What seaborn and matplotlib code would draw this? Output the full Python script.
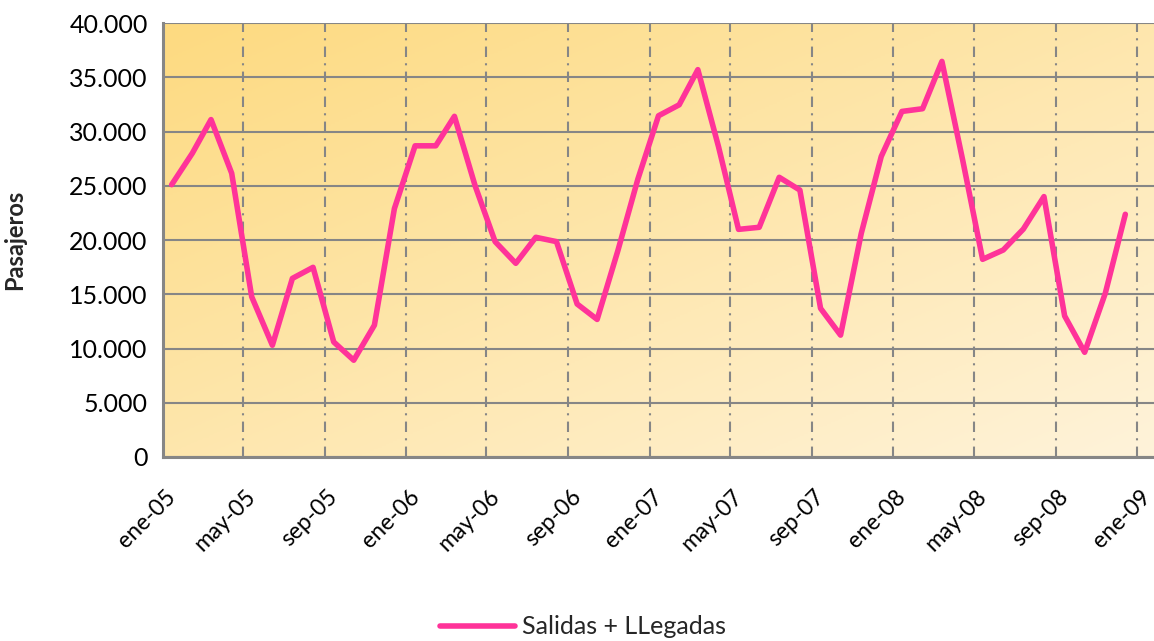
import numpy as np
import pandas as pd
import seaborn as sns
import matplotlib.pyplot as plt
import matplotlib.dates as mdates
import matplotlib.transforms as mtransforms
from matplotlib.colors import LinearSegmentedColormap
from matplotlib.ticker import FuncFormatter

# Pasajeros mensuales (salidas + llegadas), ene-05 .. dic-08
valores_2005 = [25100, 28000, 31100, 26150, 14770, 10300, 16460, 17480, 10600, 8920, 12150, 22900]
valores_2006 = [28680, 28680, 31400, 25000, 19850, 17850, 20250, 19850, 14100, 12680, 19000, 25600]
valores_2007 = [31450, 32460, 35700, 28600, 20980, 21170, 25780, 24600, 13700, 11230, 20600, 27700]
valores_2008 = [31850, 32100, 36460, 27400, 18220, 19080, 21000, 24000, 13000, 9650, 15100, 22370]
meses = ["ene", "feb", "mar", "abr", "may", "jun", "jul", "ago", "sep", "oct", "nov", "dic"]
serie = "Salidas + LLegadas"

fechas = pd.date_range("2005-01-01", periods=48, freq="MS") + pd.Timedelta(days=13)
df = pd.DataFrame({
    "Fecha": fechas,
    "Pasajeros": valores_2005 + valores_2006 + valores_2007 + valores_2008,
    "Serie": serie,
})

sns.set_style("white")
plt.rcParams["font.family"] = ["Lato", "DejaVu Sans"]

fig = plt.figure(figsize=(11.54, 6.41), dpi=100)
ax = fig.add_axes([163 / 1154, 1 - 457 / 641, 1 - 163 / 1154, (457 - 23) / 641])

# fondo degradado: amarillo arriba-izquierda, claro abajo-derecha
grad = np.linspace(0, 1, 256)
gx, gy = np.meshgrid(grad, grad)
g = (gx + gy) / 2
cmap = LinearSegmentedColormap.from_list("fondo", ["#FDDA80", "#FFF3DA"])
ax.imshow(g, extent=[0, 1, 0, 1], transform=ax.transAxes, cmap=cmap,
          aspect="auto", zorder=0, origin="upper")

sns.lineplot(data=df, x="Fecha", y="Pasajeros", hue="Serie", palette=["#FF3399"],
             linewidth=4, ax=ax, zorder=3, legend=False)

ax.set_ylim(0, 40000)
ax.set_xlim(pd.Timestamp("2005-01-01"), pd.Timestamp("2009-01-26"))
ax.set_yticks(range(0, 40001, 5000))
ax.yaxis.set_major_formatter(FuncFormatter(lambda v, p: f"{int(v):,}".replace(",", ".")))

ax.xaxis.set_major_locator(mdates.MonthLocator(bymonth=[1, 5, 9]))
ax.xaxis.set_major_formatter(FuncFormatter(
    lambda v, p: f"{meses[mdates.num2date(v).month - 1]}-{mdates.num2date(v).year % 100:02d}"))

ax.grid(axis="y", color="#868686", linewidth=1.5, zorder=1)
ax.grid(axis="x", color="#868686", linewidth=1.5, linestyle=(0, (5, 3, 1, 3)), zorder=1)
ax.set_axisbelow(True)

for s in ["top", "right"]:
    ax.spines[s].set_visible(False)
for s in ["left", "bottom"]:
    ax.spines[s].set_color("#868686")
    ax.spines[s].set_linewidth(2.2)

ax.tick_params(axis="both", colors="#868686", width=1.5, length=6, direction="out",
               labelcolor="black")
ax.tick_params(axis="y", pad=5, labelsize=18)
ax.tick_params(axis="x", pad=15, labelsize=16.5)
desplaza = mtransforms.ScaledTranslation(2 / 100, 0, fig.dpi_scale_trans)
for lbl in ax.get_xticklabels():
    lbl.set_rotation(45)
    lbl.set_ha("right")
    lbl.set_rotation_mode("anchor")
    lbl.set_transform(lbl.get_transform() + desplaza)

ax.set_xlabel("")
ax.set_ylabel("Pasajeros", fontsize=17, fontweight="bold")
ax.yaxis.set_label_coords(-0.138, 0.5)

handle = plt.Line2D([], [], color="#FF3399", linewidth=4, solid_capstyle="round")
fig.legend([handle], [serie], loc="center", bbox_to_anchor=(583 / 1154, 1 - 627 / 641),
           frameon=False, fontsize=18, handlelength=3.0, handletextpad=0.3)

fig.savefig("out.png", dpi=100)
